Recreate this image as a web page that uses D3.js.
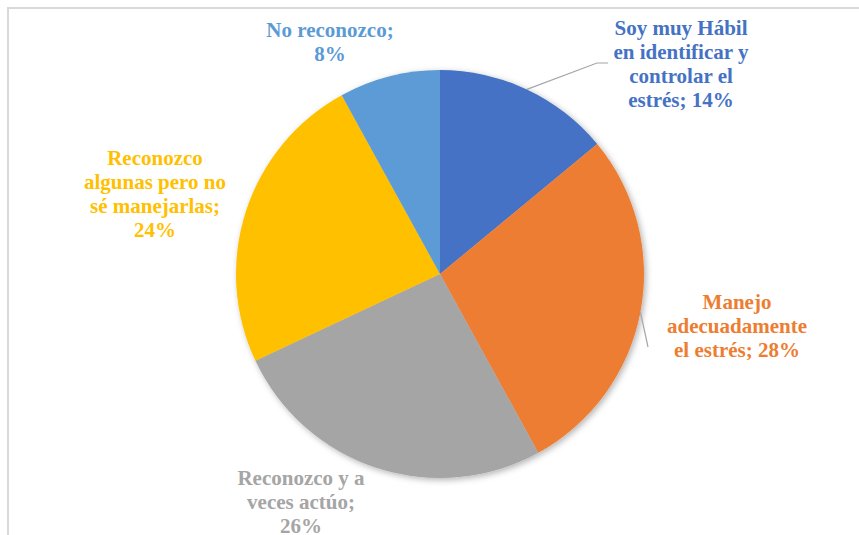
<!DOCTYPE html>
<html>
<head>
<meta charset="utf-8">
<script src="https://cdn.jsdelivr.net/npm/d3@7"></script>
<style>
  body { margin: 0; background: #fff; }
  svg { display: block; }
</style>
</head>
<body>
<svg id="mainSvg" width="859" height="535"></svg>
<script>
// data, clockwise from 12 o'clock
let categories = [
    'Soy muy Hábil en identificar y controlar el estrés',
    'Manejo adecuadamente el estrés',
    'Reconozco y a veces actúo',
    'Reconozco algunas pero no sé manejarlas',
    'No reconozco'
]
let values = [14, 28, 26, 24, 8]
let colors = ['#4472C4', '#ED7D31', '#A5A5A5', '#FFC000', '#5B9BD5']
// label text split as in the picture
let labelLines = [
    ['Soy muy Hábil', 'en identificar y', 'controlar el', 'estrés; 14%'],
    ['Manejo', 'adecuadamente', 'el estrés; 28%'],
    ['Reconozco y a', 'veces actúo;', '26%'],
    ['Reconozco', 'algunas pero no', 'sé manejarlas;', '24%'],
    ['No reconozco;', '8%']
]

let svg = d3.select('#mainSvg')
let cx = 440, cy = 274, radius = 204
let lineH = 24

// label centres relative to pie centre (layout only)
let labelPos = [[241, -210], [297, 52], [-139, 228], [-285, -80], [-110, -232]]
// leader lines: [elbow x, elbow y, end x, end y] relative to centre, null = none
let leaders = [[157, -211, 168, -211], [208, 73, null, null], null, null, null]

// chart frame (cropped on right and bottom)
svg.append('rect')
    .attr('x', 8).attr('y', 8)
    .attr('width', 900).attr('height', 600)
    .attr('fill', 'none')
    .attr('stroke', '#d9d9d9')
    .attr('stroke-width', 2)

let defs = svg.append('defs')
let f = defs.append('filter').attr('id', 'shadow')
    .attr('x', '-10%').attr('y', '-10%').attr('width', '120%').attr('height', '120%')
f.append('feDropShadow')
    .attr('dx', 2).attr('dy', 2)
    .attr('stdDeviation', 3)
    .attr('flood-color', '#000')
    .attr('flood-opacity', 0.3)

let pie = d3.pie().sort(null).value(d => d)
let arcs = pie(values)
let arc = d3.arc().innerRadius(0).outerRadius(radius)

let g = svg.append('g').attr('transform', 'translate(' + cx + ',' + cy + ')')

g.append('g')
    .attr('filter', 'url(#shadow)')
    .selectAll('path')
    .data(arcs)
    .enter()
    .append('path')
    .attr('d', arc)
    .attr('fill', (d, i) => colors[i])

// leader lines
arcs.forEach(function (d, i) {
    let l = leaders[i]
    if (!l) return
    let mid = (d.startAngle + d.endAngle) / 2
    let pts = [[Math.sin(mid) * radius, -Math.cos(mid) * radius], [l[0], l[1]]]
    if (l[2] !== null) pts.push([l[2], l[3]])
    g.append('path')
        .attr('d', d3.line()(pts))
        .attr('fill', 'none')
        .attr('stroke', '#a6a6a6')
        .attr('stroke-width', 1.2)
})

// labels
arcs.forEach(function (d, i) {
    let lines = labelLines[i]
    let p = labelPos[i]
    let t = g.append('text')
        .attr('text-anchor', 'middle')
        .style('font-family', "'Liberation Serif', 'Times New Roman', serif")
        .style('font-weight', 'bold')
        .style('font-size', '21px')
        .attr('fill', colors[i])
    let y0 = p[1] - (lines.length - 1) * lineH / 2
    lines.forEach(function (s, j) {
        t.append('tspan')
            .attr('x', p[0])
            .attr('y', y0 + j * lineH)
            .attr('dy', '0.35em')
            .text(s)
    })
})
</script>
</body>
</html>
